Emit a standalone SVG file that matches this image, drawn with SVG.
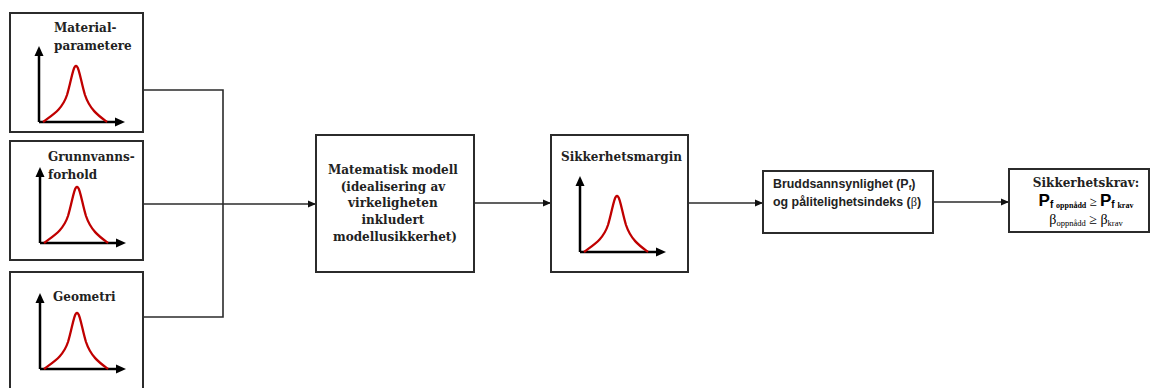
<svg xmlns="http://www.w3.org/2000/svg" xmlns:xlink="http://www.w3.org/1999/xlink" width="1151" height="388" viewBox="0 0 1151 388">
<style>
.box{fill:#fff;stroke:#2b2b2b;stroke-width:2}
.conn{fill:none;stroke:#2b2b2b;stroke-width:1.6}
.ttl{font-family:"DejaVu Serif","Liberation Serif",serif;font-weight:bold;font-size:12px;fill:#222}
.sans{font-family:"Liberation Sans",Arial,sans-serif;font-weight:bold;font-size:12.4px;fill:#222}
.axis{fill:none;stroke:#000;stroke-width:2.5}
.curve{fill:none;stroke:#c00000;stroke-width:2.3;stroke-linejoin:round}
</style>
<defs>
<marker id="arr" markerWidth="8" markerHeight="8" refX="7" refY="4" orient="auto" markerUnits="userSpaceOnUse">
<path d="M0,0.5 L8,4 L0,7.5 Z" fill="#111"/>
</marker>
<g id="chart">
<path class="axis" d="M0,0 V-67 M0,0 H77"/>
<path d="M-4.5,-66 L0,-76 L4.5,-66 Z" fill="#000"/>
<path d="M76,-4.5 L86,0 L76,4.5 Z" fill="#000"/>
<path class="curve" d="M4,0 C13,-7 23,-12 28,-27 C32,-40 34,-56 37,-56 C40,-56 42,-40 46,-27 C51,-12 60,-6 68,0"/>
</g>
</defs>

<g id="connectors">
<path class="conn" d="M143,90 H223 V317 H143"/>
<path class="conn" d="M143,204 H315" marker-end="url(#arr)"/>
<path class="conn" d="M474,203 H550" marker-end="url(#arr)"/>
<path class="conn" d="M688,203 H762" marker-end="url(#arr)"/>
<path class="conn" d="M933,202 H1008" marker-end="url(#arr)"/>
</g>

<g id="materialparametere">
<rect class="box" x="10" y="13" width="133" height="119"/>
<text class="ttl" x="54" y="32">Material-</text>
<text class="ttl" x="54" y="50">parametere</text>
<use xlink:href="#chart" href="#chart" transform="translate(39,122)"/>
</g>

<g id="grunnvannsforhold">
<rect class="box" x="10" y="141" width="133" height="119"/>
<text class="ttl" x="48" y="161">Grunnvanns-</text>
<text class="ttl" x="48" y="179">forhold</text>
<use xlink:href="#chart" href="#chart" transform="translate(40,243)"/>
</g>

<g id="geometri">
<rect class="box" x="10" y="272" width="133" height="125"/>
<text class="ttl" x="53" y="301">Geometri</text>
<use xlink:href="#chart" href="#chart" transform="translate(40,369)"/>
</g>

<g id="matematisk-modell">
<rect class="box" x="316" y="135" width="158" height="137"/>
<text class="ttl" text-anchor="middle">
<tspan x="395" y="174">Matematisk modell</tspan>
<tspan x="395" y="191">(idealisering av</tspan>
<tspan x="395" y="207">virkeligheten</tspan>
<tspan x="395" y="224">inkludert</tspan>
<tspan x="395" y="241">modellusikkerhet)</tspan>
</text>
</g>

<g id="sikkerhetsmargin">
<rect class="box" x="551" y="135" width="137" height="137"/>
<text class="ttl" x="561" y="161">Sikkerhetsmargin</text>
<use xlink:href="#chart" href="#chart" transform="translate(580,252)"/>
</g>

<g id="bruddsannsynlighet">
<rect class="box" x="763" y="171" width="170" height="62"/>
<text class="sans" x="773" y="188">Bruddsannsynlighet (P<tspan font-size="8" dy="2">f</tspan><tspan dy="-2">)</tspan></text>
<text class="sans" x="773" y="206">og pålitelighetsindeks (<tspan font-family="Liberation Serif,serif" font-weight="normal">β</tspan>)</text>
</g>

<g id="sikkerhetskrav">
<rect class="box" x="1009" y="169" width="140" height="63"/>
<text class="ttl" x="1086" y="187" text-anchor="middle">Sikkerhetskrav:</text>
<text x="1086" y="206" text-anchor="middle" font-family="Liberation Serif,serif" font-size="13" fill="#000"><tspan font-family="Liberation Sans,Arial,sans-serif" font-weight="bold" font-size="17">P</tspan><tspan font-family="Liberation Sans,Arial,sans-serif" font-weight="bold" font-size="10" dy="2">f </tspan><tspan font-size="8" font-weight="bold">oppnådd</tspan><tspan dy="-2"> ≥ </tspan><tspan font-family="Liberation Sans,Arial,sans-serif" font-weight="bold" font-size="17">P</tspan><tspan font-family="Liberation Sans,Arial,sans-serif" font-weight="bold" font-size="10" dy="2">f </tspan><tspan font-size="8" font-weight="bold">krav</tspan></text>
<text x="1086" y="224" text-anchor="middle" font-family="Liberation Serif,serif" font-size="14" fill="#000">β<tspan font-size="8.5" dy="2">oppnådd</tspan><tspan dy="-2"> ≥ </tspan>β<tspan font-size="8.5" dy="2">krav</tspan></text>
</g>
</svg>
